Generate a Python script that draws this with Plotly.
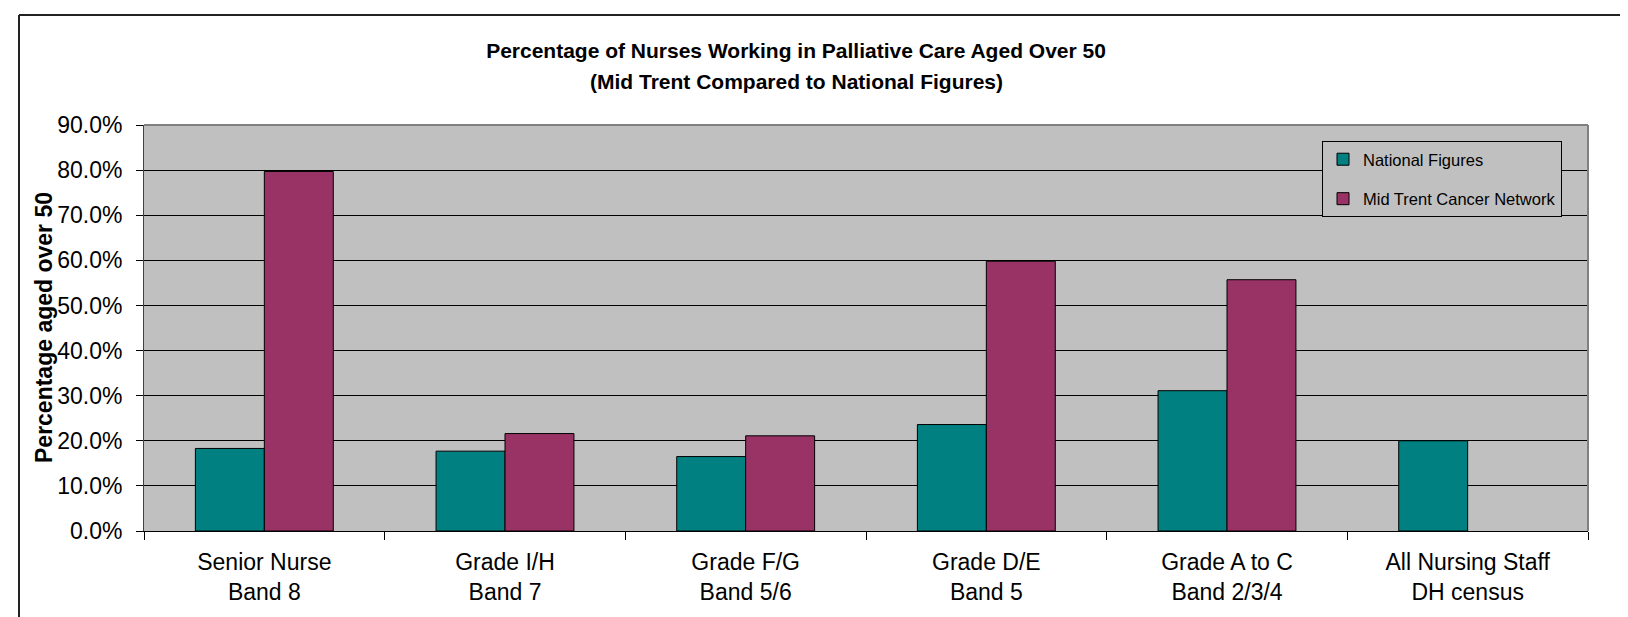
import plotly.graph_objects as go

categories = ["Senior Nurse<br>Band 8", "Grade I/H<br>Band 7", "Grade F/G<br>Band 5/6",
              "Grade D/E<br>Band 5", "Grade A to C<br>Band 2/3/4", "All Nursing Staff<br>DH census"]
national = [0.183, 0.177, 0.165, 0.236, 0.311, 0.200]
mid_trent = [0.797, 0.216, 0.211, 0.598, 0.557, None]
y_ticks = [0.0, 0.1, 0.2, 0.3, 0.4, 0.5, 0.6, 0.7, 0.8, 0.9]
title_line1 = "Percentage of Nurses Working in Palliative Care Aged Over 50"
title_line2 = "(Mid Trent Compared to National Figures)"
y_title = "Percentage aged over 50"

W, H = 1628, 617
L, R, T, B = 136, 1580, 117, 523
FONT = "Liberation Sans, Arial, sans-serif"


def px(x):
    return (x - L) / (R - L)


def py(y):
    return (B - y) / (B - T)


fig = go.Figure()
fig.add_trace(go.Bar(x=categories, y=national, name="National Figures",
                     marker=dict(color="#008080", line=dict(color="#000000", width=1)),
                     legendgroup="a"))
fig.add_trace(go.Bar(x=categories, y=mid_trent, name="Mid Trent Cancer Network",
                     marker=dict(color="#993366", line=dict(color="#000000", width=1)),
                     legendgroup="b"))

fig.update_layout(
    width=W, height=H,
    margin=dict(l=L, r=W - R, t=T, b=H - B, pad=0),
    paper_bgcolor="#ffffff",
    plot_bgcolor="#c0c0c0",
    barmode="group",
    bargap=0.427,
    bargroupgap=0,
    font=dict(family=FONT, color="#000000"),
    title=dict(text=title_line1,
               x=788 / W, xref="container", xanchor="center",
               y=1 - 43 / H, yref="container", yanchor="middle",
               font=dict(family=FONT, size=21, weight="bold", color="#000000")),
    legend=dict(x=px(1314), y=py(133), xanchor="left", yanchor="top",
                bgcolor="#c0c0c0", bordercolor="#000000", borderwidth=1,
                font=dict(family=FONT, size=16.5, color="#000000"),
                tracegroupgap=15, traceorder="grouped"),
    xaxis=dict(type="category", tickson="boundaries", ticks="outside", ticklen=8,
               tickcolor="#000000", tickwidth=1, ticklabelstandoff=10,
               showline=True, linecolor="#000000", linewidth=1,
               showgrid=False,
               tickfont=dict(family=FONT, size=23, color="#000000")),
    yaxis=dict(range=[0, 0.9], tickvals=y_ticks, tickformat=".1%",
               ticks="outside", ticklen=7, tickcolor="#000000", tickwidth=1,
               ticklabelstandoff=9,
               showline=True, linecolor="#404040", linewidth=1,
               showgrid=True, gridcolor="#000000", gridwidth=1,
               zeroline=False,
               tickfont=dict(family=FONT, size=23, color="#000000")),
    annotations=[
        dict(text=title_line2, x=px(788), y=py(74), xref="paper", yref="paper",
             xanchor="center", yanchor="middle", showarrow=False,
             font=dict(family=FONT, size=21, weight="bold", color="#000000")),
        dict(text=y_title, textangle=-90,
             x=px(36), y=0.5, xref="paper", yref="paper",
             xanchor="center", yanchor="middle", showarrow=False,
             font=dict(family=FONT, size=23, weight="bold", color="#000000")),
    ],
    shapes=[
        dict(type="line", xref="paper", yref="paper", x0=0, x1=1, y0=1, y1=1,
             line=dict(color="#808080", width=2), layer="above"),
        dict(type="line", xref="paper", yref="paper", x0=1, x1=1, y0=0, y1=1,
             line=dict(color="#808080", width=2), layer="above"),
        dict(type="line", xref="paper", yref="paper", x0=px(11), x1=px(W + 5), y0=py(7), y1=py(7),
             line=dict(color="#222222", width=2)),
        dict(type="line", xref="paper", yref="paper", x0=px(11), x1=px(11), y0=py(7), y1=py(H + 5),
             line=dict(color="#222222", width=2)),
    ],
)

fig.write_html("out.html")
